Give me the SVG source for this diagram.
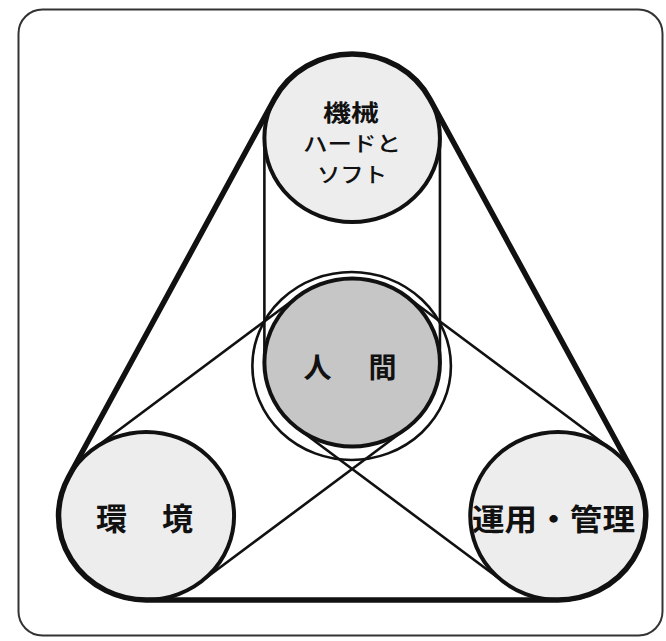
<svg xmlns="http://www.w3.org/2000/svg" width="666" height="641" viewBox="0 0 666 641">
  <style>
    .frame{fill:#fff;stroke:#333;stroke-width:2}
    .belt{fill:none;stroke:#111;stroke-width:5.5;stroke-linejoin:round;vector-effect:non-scaling-stroke}
    .thin{fill:none;stroke:#111;stroke-width:2.6;vector-effect:non-scaling-stroke}
    .ring{fill:none;stroke:#111;stroke-width:2.6;vector-effect:non-scaling-stroke}
    .node{fill:#ededed;stroke:#111;stroke-width:4;vector-effect:non-scaling-stroke}
    .core{fill:#c6c6c6;stroke:#111;stroke-width:4;vector-effect:non-scaling-stroke}
    text{font-family:"Noto Sans CJK JP","Noto Sans CJK SC",sans-serif;fill:#111;text-anchor:middle;dominant-baseline:central}
    .t{font-size:21px;font-weight:500}
    .b{font-weight:bold}
  </style>
  <rect class="frame" x="18.5" y="9.5" width="644" height="626" rx="24"/>
  <g transform="scale(1.045,1)">
    <g id="connectors">
      <line class="thin" x1="253" y1="138" x2="253" y2="362.5"/>
      <line class="thin" x1="421" y1="138" x2="421" y2="362.5"/>
      <line class="thin" x1="88.4" y1="449.7" x2="285.4" y2="296.2"/>
      <line class="thin" x1="191.6" y1="582.3" x2="388.6" y2="428.8"/>
      <line class="thin" x1="585.6" y1="449.7" x2="388.6" y2="296.2"/>
      <line class="thin" x1="482.4" y1="582.3" x2="285.4" y2="428.8"/>
    </g>
    <g id="ningen-ring">
      <ellipse class="ring" cx="336.5" cy="366" rx="95" ry="94"/>
    </g>
    <g id="kikai-shape"><circle class="node" cx="337" cy="138" r="84"/></g>
    <g id="kankyo-shape"><circle class="node" cx="140" cy="516" r="84"/></g>
    <g id="unyo-shape"><circle class="node" cx="534" cy="516" r="84"/></g>
    <g id="ningen-shape"><circle class="core" cx="337" cy="362.5" r="84"/></g>
    <path id="belt" class="belt" d="M 65.5 477.2 A 84 84 0 0 0 140 600 L 534 600 A 84 84 0 0 0 608.5 477.2 L 411.5 99.2 A 84 84 0 0 0 262.5 99.2 Z"/>
  </g>
  <g id="kikai">
    <text class="b" style="font-size:23px" x="351" y="110.5" textLength="56" lengthAdjust="spacingAndGlyphs">機械</text>
    <text class="t" x="352" y="142" textLength="98" lengthAdjust="spacingAndGlyphs">ハードと</text>
    <text class="t" x="352" y="172.5" textLength="70" lengthAdjust="spacingAndGlyphs">ソフト</text>
  </g>
  <g id="ningen">
    <text class="b" style="font-size:28px" x="317.5 382.5" y="365.5">人間</text>
  </g>
  <g id="kankyo">
    <text class="b" style="font-size:31px" x="111.5 177.5" y="516.5">環境</text>
  </g>
  <g id="unyo">
    <text class="b" style="font-size:30px" x="553.5" y="516.5" textLength="163" lengthAdjust="spacingAndGlyphs">運用・管理</text>
  </g>
</svg>
